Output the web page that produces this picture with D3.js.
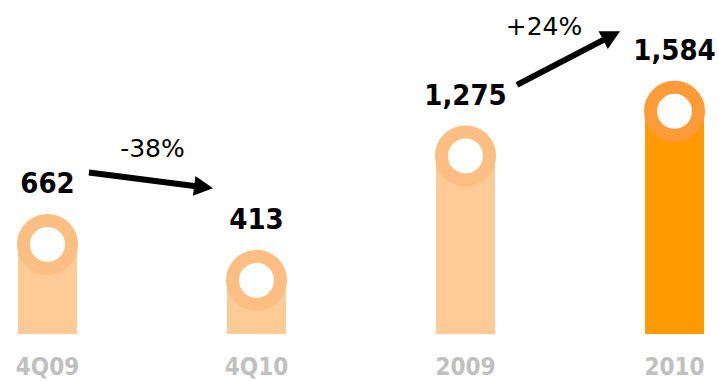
<!DOCTYPE html>
<html>
<head>
<meta charset="utf-8">
<script src="https://cdn.jsdelivr.net/npm/d3@7"></script>
<style>
  body { margin: 0; background: #fff; }
  text { font-family: "DejaVu Sans Condensed", "DejaVu Sans", sans-serif; font-stretch: condensed; }
</style>
</head>
<body>
<svg width="719" height="381"></svg>
<script>
const categories = ["4Q09", "4Q10", "2009", "2010"];
const values = [662, 413, 1275, 1584];
const valueLabels = ["662", "413", "1,275", "1,584"];
const changeLabels = ["-38%", "+24%"];
const changeFrom = [0, 2];
const changeTo = [1, 3];
const highlight = "2010";

let svg = d3.select("svg");
const baseY = 334;

let x = d3.scaleBand()
  .domain(categories)
  .range([18, 704])
  .paddingInner(0.718)
  .paddingOuter(0);

let y = d3.scaleLinear()
  .domain([0, 1600])
  .range([340, 109]);

const bw = x.bandwidth();
const data = categories.map((c, i) => ({ cat: c, value: values[i], label: valueLabels[i] }));

let barColor = d => (d.cat === highlight ? "#FF9A00" : "#FECB97");
let ringColor = d => (d.cat === highlight ? "#FC9B38" : "#FDBE83");

// bars
svg.selectAll("rect.bar")
  .data(data)
  .enter()
  .append("rect")
  .attr("class", "bar")
  .attr("x", d => x(d.cat))
  .attr("y", d => y(d.value))
  .attr("width", bw)
  .attr("height", d => baseY - y(d.value))
  .attr("fill", barColor);

// ring caps
svg.selectAll("circle.cap")
  .data(data)
  .enter()
  .append("circle")
  .attr("class", "cap")
  .attr("cx", d => x(d.cat) + bw / 2)
  .attr("cy", d => y(d.value))
  .attr("r", 24)
  .attr("fill", "#fff")
  .attr("stroke", ringColor)
  .attr("stroke-width", 13);

// value labels
svg.selectAll("text.value")
  .data(data)
  .enter()
  .append("text")
  .attr("class", "value")
  .text(d => d.label)
  .attr("x", d => x(d.cat) + bw / 2)
  .attr("y", d => y(d.value) - 51)
  .attr("text-anchor", "middle")
  .attr("font-size", 29)
  .attr("font-weight", "bold")
  .attr("fill", "#000");

// category labels
svg.selectAll("text.cat")
  .data(data)
  .enter()
  .append("text")
  .attr("class", "cat")
  .text(d => d.cat)
  .attr("x", d => x(d.cat) + bw / 2)
  .attr("y", 375)
  .attr("text-anchor", "middle")
  .attr("font-size", 24)
  .attr("font-weight", "bold")
  .attr("fill", "#C0C0C0");

// change arrows (hand placed offsets around the two ends)
const arrowOffsets = [
  { t: [12, -72], h: [-14, -92], l: [1.5, -23.5] },
  { t: [22, -71], h: [-25, -80], l: [-24.5, -23] }
];

let arrows = changeLabels.map((lab, i) => {
  let a = data[changeFrom[i]], b = data[changeTo[i]], o = arrowOffsets[i];
  let p0 = [x(a.cat) + bw + o.t[0], y(a.value) + o.t[1]];
  let p1 = [x(b.cat) + o.h[0], y(b.value) + o.h[1]];
  return { label: lab, p0: p0, p1: p1, o: o };
});

let ag = svg.selectAll("g.arrow")
  .data(arrows)
  .enter()
  .append("g")
  .attr("class", "arrow");

const headLen = 19, headHalf = 10;

ag.append("line")
  .attr("x1", d => d.p0[0])
  .attr("y1", d => d.p0[1])
  .attr("x2", d => {
    let dx = d.p1[0] - d.p0[0], dy = d.p1[1] - d.p0[1], len = Math.hypot(dx, dy);
    return d.p1[0] - dx / len * (headLen - 2);
  })
  .attr("y2", d => {
    let dx = d.p1[0] - d.p0[0], dy = d.p1[1] - d.p0[1], len = Math.hypot(dx, dy);
    return d.p1[1] - dy / len * (headLen - 2);
  })
  .attr("stroke", "#000")
  .attr("stroke-width", 6);

ag.append("path")
  .attr("d", d => {
    let dx = d.p1[0] - d.p0[0], dy = d.p1[1] - d.p0[1], len = Math.hypot(dx, dy);
    let ux = dx / len, uy = dy / len;
    let bx = d.p1[0] - ux * headLen, by = d.p1[1] - uy * headLen;
    return "M" + d.p1[0] + "," + d.p1[1] +
      "L" + (bx - uy * headHalf) + "," + (by + ux * headHalf) +
      "L" + (bx + uy * headHalf) + "," + (by - ux * headHalf) + "Z";
  })
  .attr("fill", "#000");

ag.append("text")
  .text(d => d.label)
  .attr("x", d => (d.p0[0] + d.p1[0]) / 2 + d.o.l[0])
  .attr("y", d => (d.p0[1] + d.p1[1]) / 2 + d.o.l[1])
  .attr("text-anchor", "middle")
  .attr("font-size", 25)
  .style("font-family", "'DejaVu Sans', sans-serif")
  .style("font-stretch", "normal")
  .attr("fill", "#000");
</script>
</body>
</html>
